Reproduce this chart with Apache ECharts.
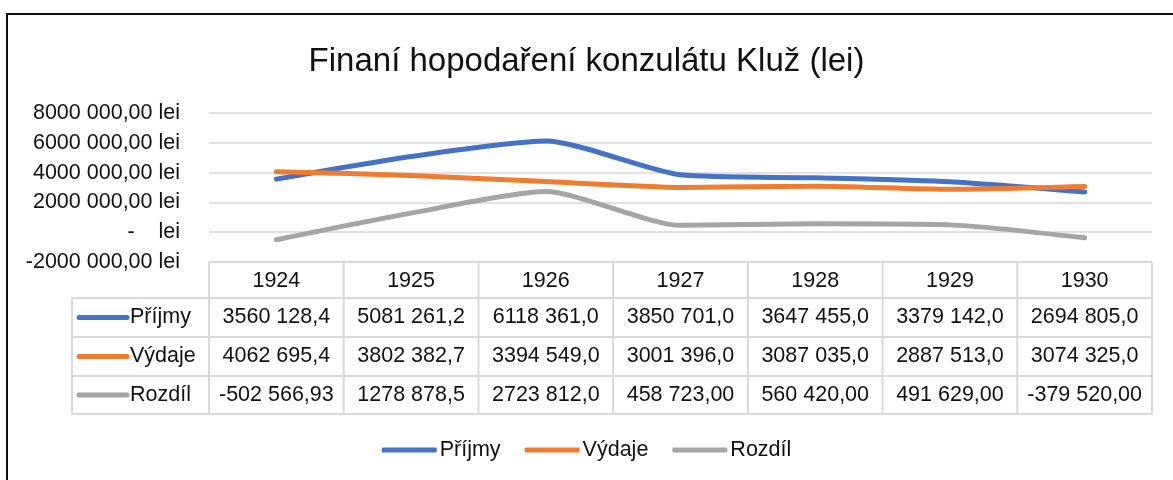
<!DOCTYPE html>
<html>
<head>
<meta charset="utf-8">
<script src="https://cdn.jsdelivr.net/npm/echarts@6/dist/echarts.min.js"></script>
<style>
  html, body { margin: 0; padding: 0; background: #fff; }
  #chart { width: 1173px; height: 480px; }
</style>
</head>
<body>
<div id="chart"></div>
<script>
// data
var years = ["1924", "1925", "1926", "1927", "1928", "1929", "1930"];
var prijmy = [3560128.4, 5081261.2, 6118361.0, 3850701.0, 3647455.0, 3379142.0, 2694805.0];
var vydaje = [4062695.4, 3802382.7, 3394549.0, 3001396.0, 3087035.0, 2887513.0, 3074325.0];
var rozdil = [-502566.93, 1278878.5, 2723812.0, 458723.0, 560420.0, 491629.0, -379520.0];
// decimals shown in the data table
var prijmyDec = [1, 1, 1, 1, 1, 1, 1];
var vydajeDec = [1, 1, 1, 1, 1, 1, 1];
var rozdilDec = [2, 1, 1, 2, 2, 2, 2];
var yMin = -2000000, yMax = 8000000, yStep = 2000000;

var FONT = "'Liberation Sans', Arial, sans-serif";
var colors = ["#4472C4", "#ED7D31", "#A5A5A5"];
var names = ["Příjmy", "Výdaje", "Rozdíl"];

function fmt(v, d) {
  var sign = v < 0 ? "-" : "";
  var s = Math.abs(v).toFixed(d).split(".");
  var intPart = s[0];
  if (intPart.length > 3) intPart = intPart.slice(0, -3) + " " + intPart.slice(-3);
  return sign + intPart + (d ? "," + s[1] : "");
}

var gridLeft = 209, gridRight = 21, gridTop = 113, gridBottom = 218;

var chart = echarts.init(document.getElementById("chart"));

var option = {
  animation: false,
  title: {
    text: "Finaní hopodaření konzulátu Kluž (lei)",
    left: "center",
    top: 40,
    textStyle: { fontFamily: FONT, fontSize: 33, fontWeight: "normal", color: "#111" }
  },
  legend: {
    data: names,
    bottom: 14,
    left: "center",
    icon: "roundRect",
    itemWidth: 55,
    itemHeight: 5,
    itemGap: 24,
    textStyle: { fontFamily: FONT, fontSize: 21.5, color: "#111", padding: [0, 0, 0, -2] }
  },
  grid: { left: gridLeft, right: gridRight, top: gridTop, bottom: gridBottom },
  xAxis: {
    type: "category",
    data: years,
    axisLine: { show: false },
    axisTick: { show: false },
    axisLabel: { show: false }
  },
  yAxis: {
    type: "value",
    min: yMin,
    max: yMax,
    interval: yStep,
    axisLine: { show: false },
    axisTick: { show: false },
    splitLine: { lineStyle: { color: "#d9d9d9", width: 1.5 } },
    axisLabel: {
      margin: 29,
      fontFamily: FONT,
      fontSize: 21.5,
      color: "#111",
      formatter: function (v) {
        if (v === 0) return "-    lei";
        return fmt(v, 2) + " lei";
      }
    }
  },
  series: [prijmy, vydaje, rozdil].map(function (d, i) {
    return {
      name: names[i],
      type: "line",
      data: d,
      smooth: 0.22,
      symbol: "none",
      itemStyle: { color: colors[i] },
      lineStyle: { color: colors[i], width: 5, cap: "round", join: "round" }
    };
  })
};

chart.setOption(option);

// data table under the plot, columns taken from the category axis
function buildTable() {
  var g = [];
  var x0 = gridLeft, x1 = 1173 - gridRight;
  var cw = (x1 - x0) / years.length;
  var tableLeft = 72;
  var rowsY = [262, 298, 337, 376, 414];
  var line = function (xa, ya, xb, yb) {
    g.push({
      type: "line",
      shape: { x1: xa, y1: ya, x2: xb, y2: yb },
      style: { stroke: "#d9d9d9", lineWidth: 2 },
      silent: true
    });
  };
  // horizontal lines
  line(x0, rowsY[0], x1, rowsY[0]);
  for (var r = 1; r < rowsY.length; r++) line(tableLeft, rowsY[r], x1, rowsY[r]);
  // vertical lines
  for (var c = 0; c <= years.length; c++) line(x0 + c * cw, rowsY[0], x0 + c * cw, rowsY[4]);
  line(tableLeft, rowsY[1], tableLeft, rowsY[4]);

  var text = function (str, x, y, align) {
    g.push({
      type: "text",
      x: x, y: y,
      style: {
        text: str, fill: "#111", fontFamily: FONT, fontSize: 21.5,
        align: align || "center", verticalAlign: "middle"
      },
      silent: true
    });
  };
  years.forEach(function (yr, i) {
    var cx = chart.convertToPixel({ xAxisIndex: 0 }, i);
    text(yr, cx, (rowsY[0] + rowsY[1]) / 2 + 1);
  });
  var rowData = [[prijmy, prijmyDec], [vydaje, vydajeDec], [rozdil, rozdilDec]];
  rowData.forEach(function (rd, r) {
    var cy = (rowsY[r + 1] + rowsY[r + 2]) / 2;
    g.push({
      type: "line",
      shape: { x1: 79, y1: cy, x2: 127, y2: cy },
      style: { stroke: colors[r], lineWidth: 5, lineCap: "round" },
      silent: true
    });
    text(names[r], 130, cy, "left");
    rd[0].forEach(function (v, i) {
      var cx = chart.convertToPixel({ xAxisIndex: 0 }, i);
      text(fmt(v, rd[1][i]), cx, cy);
    });
  });
  // outer chart border (runs off the right and bottom edges)
  g.push({
    type: "rect",
    shape: { x: 7, y: 14, width: 1400, height: 700 },
    style: { fill: null, stroke: "#111", lineWidth: 2 },
    silent: true
  });
  chart.setOption({ graphic: g });
}
buildTable();
</script>
</body>
</html>
